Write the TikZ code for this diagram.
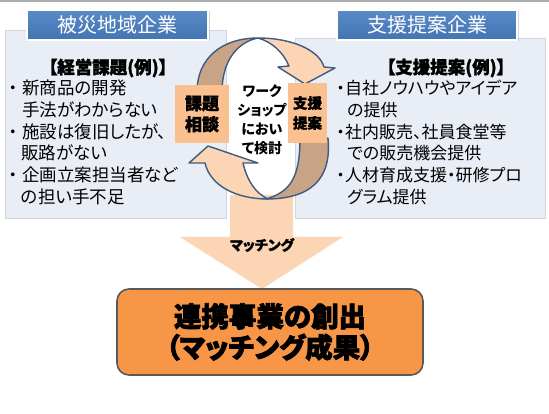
\documentclass[tikz,border=0pt]{standalone}
\usepackage{fontspec}
\usetikzlibrary{shadows}
\newfontfamily\jp{Noto Sans CJK JP}[RawFeature=+palt]
\newfontfamily\jpheavy{Noto Sans CJK JP}[RawFeature=+palt,FakeBold=1.5]
\newfontfamily\jpblack{Noto Sans CJK JP}[RawFeature=+palt,FakeBold=2.5]
\definecolor{panel}{HTML}{E9EEF6}
\definecolor{panelline}{HTML}{CDD6E4}
\definecolor{titletop}{HTML}{5A8BC7}
\definecolor{titlebot}{HTML}{4374B3}
\definecolor{peach}{HTML}{FAC090}
\definecolor{lightpeach}{HTML}{FCD5B5}
\definecolor{tanc}{HTML}{C9A386}
\definecolor{outl}{HTML}{3E5B80}
\definecolor{orangebox}{HTML}{F79646}
\definecolor{boxline}{HTML}{595959}
\tikzset{
  panelbox/.style={draw=panelline, line width=0.8pt, fill=panel, inner sep=0pt, anchor=north west},
  titlebox/.style={draw=white, line width=1.2pt, top color=titletop, bottom color=titlebot,
    drop shadow={shadow xshift=1.5pt, shadow yshift=-1.5pt, opacity=0.35},
    text=white, font=\jp\fontsize{20pt}{24pt}\selectfont, minimum height=30pt, inner sep=0pt},
  heading/.style={font=\jpheavy\bfseries\fontsize{17.5pt}{20pt}\selectfont, inner sep=0pt},
  ltext/.style={font=\jp\fontsize{17.5pt}{21pt}\selectfont, inner sep=0pt, anchor=west},
  rtext/.style={font=\jp\fontsize{17pt}{21pt}\selectfont, inner sep=0pt, anchor=west},
  smallbox/.style={fill=peach, inner sep=0pt, align=center},
  arrowdark/.style={fill=tanc, draw=outl, line width=1.4pt, line join=round},
  arrowlight/.style={fill=lightpeach, draw=outl, line width=1.4pt, line join=round},
  resultbox/.style={fill=orangebox, draw=boxline, line width=1.6pt, rounded corners=12pt,
    align=center, inner sep=0pt, font=\jpblack\bfseries\fontsize{27.5pt}{31pt}\selectfont}
}
\begin{document}
\begin{tikzpicture}[x=1pt,y=-1pt]
\useasboundingbox (0,0) rectangle (549,414);
\fill[white] (0,0) rectangle (549,414);
\fill[gray!65] (0,0) rectangle (549,2.5);

% panels
\node[panelbox, minimum width=221pt, minimum height=188pt] (lp) at (5,30) {};
\node[panelbox, minimum width=250pt, minimum height=180pt] (rp) at (295,38) {};

% title boxes
\node[titlebox, minimum width=181pt] (lt) at (117.5,25) {被災地域企業};
\node[titlebox, minimum width=180pt] (rt) at (427,25) {支援提案企業};

% down arrow
\path[fill=lightpeach] (230,195) -- (293,195) -- (293,237) -- (343,237) -- (262,289) -- (180,237) -- (230,237) -- cycle;
\node[font=\jpheavy\bfseries\fontsize{14pt}{16pt}\selectfont, inner sep=0pt] (mt) at (262,245) {マッチング};

% top curved arrow
\path[arrowdark] (197,92) .. controls (197,58) and (222,38) .. (258,38)
   .. controls (238,42) and (222,60) .. (222,92) -- cycle;
\path[arrowlight] (258,38) .. controls (292,38) and (319,50) .. (324,67) -- (335,68) -- (305,84)
   -- (278,67) -- (289,66) .. controls (283,52) and (272,42) .. (258,38) -- cycle;

% bottom curved arrow
\path[arrowdark] (328,138) .. controls (332,180) and (310,199) .. (266,199)
   .. controls (290,192) and (300,178) .. (300,138) -- cycle;
\path[arrowlight] (268,199) .. controls (235,199) and (210,185) .. (205,163) -- (189,163)
   -- (208,146) -- (258,163) -- (243,163) .. controls (247,180) and (255,193) .. (268,199) -- cycle;

% small boxes
\node[smallbox, minimum width=54pt, minimum height=58pt,
  font=\jpheavy\bfseries\fontsize{17pt}{21pt}\selectfont] (kd) at (202,114) {課題\\相談};
\node[smallbox, minimum width=39pt, minimum height=60pt,
  font=\jpheavy\bfseries\fontsize{14.5pt}{20pt}\selectfont] (sj) at (307.5,113) {支援\\提案};

% center text
\node[align=center, inner sep=0pt, font=\jp\bfseries\fontsize{14pt}{19pt}\selectfont] (ws) at (262,120)
  {ワーク\\ショップ\\におい\\て検討};

% left panel text
\node[heading] (lh) at (108,68) {【経営課題(例)】};
\node[ltext] (l1) at (4,88) {\makebox[18pt][c]{・}新商品の開発};
\node[ltext] (l2) at (22,110) {手法がわからない};
\node[ltext] (l3) at (4,132) {\makebox[18pt][c]{・}施設は復旧したが、};
\node[ltext] (l4) at (21,153) {販路がない};
\node[ltext] (l5) at (4,175) {\makebox[18pt][c]{・}企画立案担当者など};
\node[ltext] (l6) at (21,197) {の担い手不足};

% right panel text
\node[heading] (rh) at (446,68) {【支援提案(例)】};
\node[rtext] (r1) at (336,88) {\makebox[9pt][c]{・}自社ノウハウやアイデア};
\node[rtext] (r2) at (347,110) {の提供};
\node[rtext] (r3) at (336,132) {\makebox[9pt][c]{・}社内販売、社員食堂等};
\node[rtext] (r4) at (347,153) {での販売機会提供};
\node[rtext] (r5) at (336,175) {\makebox[9pt][c]{・}人材育成支援・研修プロ};
\node[rtext] (r6) at (347,197) {グラム提供};

% result box
\node[resultbox, minimum width=306pt, minimum height=86pt] (rb) at (270,332)
  {連携事業の創出\\（マッチング成果）};
\end{tikzpicture}
\end{document}
